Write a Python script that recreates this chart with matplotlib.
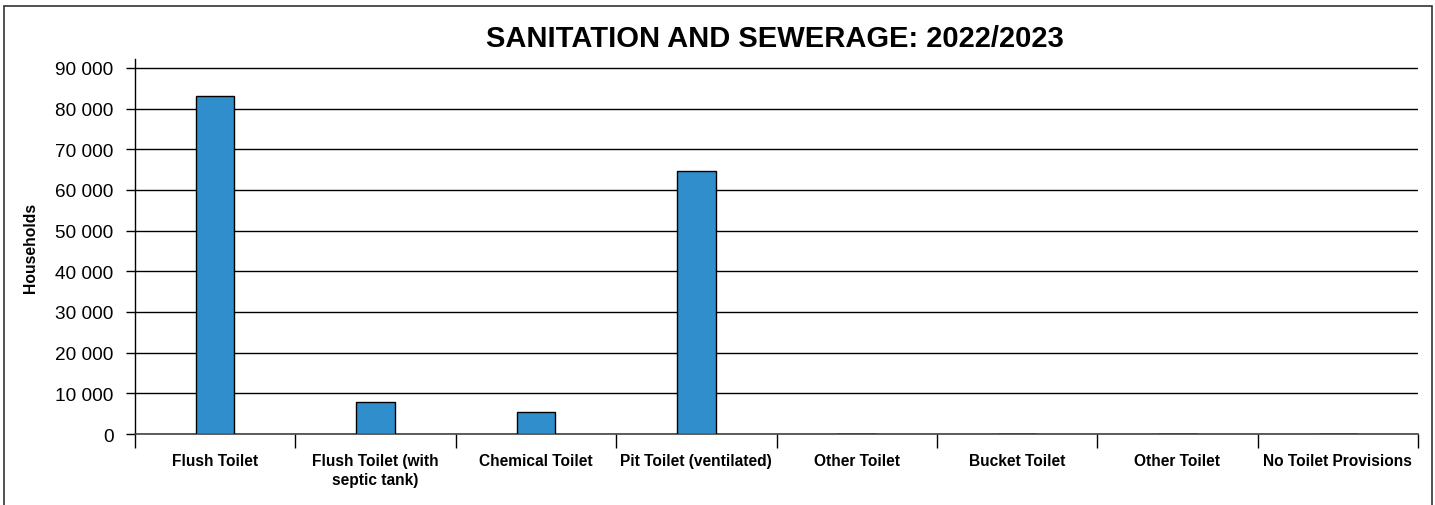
import numpy as np
import matplotlib.pyplot as plt
from matplotlib.patches import Rectangle

# Data
categories = ["Flush Toilet", "Flush Toilet (with\nseptic tank)", "Chemical Toilet",
              "Pit Toilet (ventilated)", "Other Toilet", "Bucket Toilet",
              "Other Toilet", "No Toilet Provisions"]
households = [83000, 7900, 5450, 64700, 0, 0, 0, 0]
yticks = [0, 10000, 20000, 30000, 40000, 50000, 60000, 70000, 80000, 90000]
ytick_labels = ["0", "10 000", "20 000", "30 000", "40 000", "50 000",
                "60 000", "70 000", "80 000", "90 000"]

plt.rcParams['font.family'] = ['Liberation Sans', 'DejaVu Sans']

fig = plt.figure(figsize=(14.35, 5.06), dpi=100)
ax = fig.add_axes([0.0941, 0.1403, 0.8941, 0.7411])

x = np.arange(len(categories))
ax.bar(x, households, width=0.24, color='#318ecc', edgecolor='black', linewidth=1.0, zorder=3)

ax.set_xlim(-0.5, len(categories) - 0.5)
ax.set_ylim(0, 92200)
ax.set_yticks(yticks)
ax.set_yticklabels(ytick_labels, fontsize=13.7)
ax.yaxis.grid(True, color='black', linewidth=1.0)
ax.set_axisbelow(True)
ax.tick_params(axis='y', length=6.5, width=1, pad=9)

# category labels between boundary ticks
ax.set_xticks(np.arange(-0.5, len(categories)), minor=False)
ax.set_xticklabels([])
ax.set_xticks(x, minor=True)
ax.set_xticklabels(categories, minor=True, fontsize=11.2, fontweight='bold', linespacing=1.3)
ax.tick_params(axis='x', which='major', length=10, width=1, direction='out')
ax.tick_params(axis='x', which='minor', length=0, pad=14)

for s in ['top', 'right']:
    ax.spines[s].set_visible(False)
ax.spines['left'].set_linewidth(1.0)
ax.spines['bottom'].set_linewidth(1.2)
ax.spines['bottom'].set_color('#444444')

ax.set_ylabel('Households', fontsize=11.3, fontweight='bold', labelpad=12)

fig.text(0.54, 0.922, 'SANITATION AND SEWERAGE: 2022/2023', ha='center', va='center',
         fontsize=21, fontweight='bold')

# outer frame
fig.patches.append(Rectangle((0.0025, -0.05), 0.9955, 1.036, transform=fig.transFigure,
                             fill=False, edgecolor='#333333', linewidth=1.2))

fig.savefig('out.png', dpi=100)
